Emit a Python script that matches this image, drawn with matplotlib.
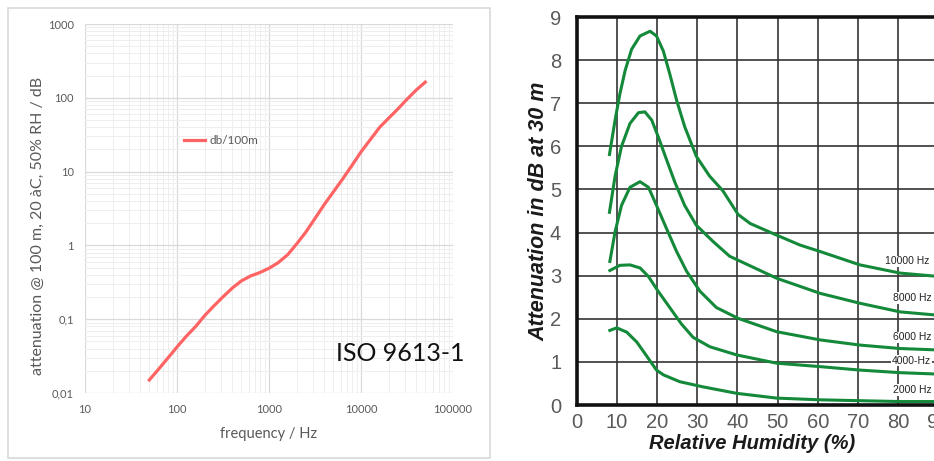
import matplotlib.pyplot as plt
from matplotlib.patches import Rectangle

# --- left chart: ISO 9613-1, attenuation per 100 m (20 C, 50 % RH)
freq = [50, 63, 80, 100, 125, 160, 200, 250, 315, 400, 500, 630, 800, 1000,
        1250, 1600, 2000, 2500, 3150, 4000, 5000, 6300, 8000, 10000, 12500,
        16000, 20000, 25000, 31500, 40000, 50000]
atten = [0.015, 0.021, 0.030, 0.042, 0.058, 0.080, 0.112, 0.150, 0.200, 0.265,
         0.330, 0.385, 0.430, 0.490, 0.580, 0.750, 1.05, 1.5, 2.3, 3.6, 5.3,
         7.9, 12.2, 18.5, 26.7, 40, 53, 70, 95, 128, 163]
x_ticks = [10, 100, 1000, 10000, 100000]
x_labels = ["10", "100", "1000", "10000", "100000"]
y_ticks = [0.01, 0.1, 1, 10, 100, 1000]
y_labels = ["0,01", "0,1", "1", "10", "100", "1000"]

# --- right chart: attenuation at 30 m vs relative humidity
rh_10k = [8.2, 9.6, 10.8, 12.1, 13.7, 15.8, 18.3, 19.9, 21.6, 23.2, 24.9, 26.9,
          29.8, 33.1, 36.4, 40.2, 43.2, 49.8, 55.6, 60.6, 70.5, 80.5, 89]
att_10k = [5.81, 6.61, 7.22, 7.76, 8.25, 8.56, 8.67, 8.56, 8.21, 7.68, 7.07, 6.46,
           5.77, 5.31, 4.97, 4.42, 4.21, 3.94, 3.71, 3.56, 3.25, 3.06, 2.99]
rh_8k = [8.2, 9.6, 11.2, 13.3, 15.4, 17.0, 18.7, 20.3, 22.4, 24.5, 26.9, 29.8,
         34.0, 38.1, 49.8, 60.6, 70.5, 80.5, 89]
att_8k = [4.47, 5.31, 6.00, 6.53, 6.78, 6.80, 6.61, 6.23, 5.69, 5.16, 4.63, 4.17,
          3.79, 3.45, 2.94, 2.59, 2.36, 2.16, 2.09]
rh_6k = [8.3, 9.6, 11.2, 13.3, 15.8, 17.9, 19.9, 22.4, 24.9, 27.4, 30.7, 34.8,
         40.2, 49.8, 60.6, 70.5, 80.5, 89]
att_6k = [3.33, 4.02, 4.63, 5.05, 5.18, 5.05, 4.63, 4.09, 3.56, 3.10, 2.64, 2.26,
          2.01, 1.70, 1.51, 1.39, 1.31, 1.28]
rh_4k = [8.3, 10.8, 13.3, 15.8, 17.9, 20.3, 23.2, 26.1, 29.0, 33.2, 39.9, 49.8,
         60.6, 70.5, 80.5, 89]
att_4k = [3.12, 3.24, 3.25, 3.18, 2.98, 2.64, 2.26, 1.88, 1.57, 1.35, 1.16, 0.97,
          0.89, 0.81, 0.75, 0.72]
rh_2k = [8.3, 10, 12.5, 15.0, 17.5, 19.9, 21.6, 25.7, 31.5, 39.9, 49.8, 60.6,
         70.5, 80.5, 89]
att_2k = [1.73, 1.79, 1.69, 1.46, 1.13, 0.81, 0.70, 0.54, 0.42, 0.27, 0.16, 0.12,
          0.10, 0.08, 0.08]
curve_names = ["10000 Hz", "8000 Hz", "6000 Hz", "4000-Hz", "2000 Hz"]
name_pos = [(76.7, 3.33), (78.7, 2.48), (78.7, 1.57), (78.5, 1.03), (78.7, 0.35)]

W, H = 934, 461
fig = plt.figure(figsize=(W / 100, H / 100), dpi=100)

# light frame around the left (excel) chart
fig.patches.append(Rectangle((8 / W, 1 - 458 / H), 482 / W, 450 / H,
                             transform=fig.transFigure, fill=False,
                             edgecolor="#d9d9d9", linewidth=1.2))

ax1 = fig.add_axes([85 / W, 1 - 393 / H, 368 / W, 369 / H])
ax1.plot(freq, atten, color="#ff6464", linewidth=2.3, label="db/100m")
ax1.set_xscale("log")
ax1.set_yscale("log")
ax1.set_xlim(10, 100000)
ax1.set_ylim(0.01, 1000)
ax1.set_xticks(x_ticks, x_labels)
ax1.set_yticks(y_ticks, y_labels)
ax1.grid(which="major", color="#d9d9d9", linewidth=0.9)
ax1.grid(which="minor", color="#eeeeee", linewidth=0.7)
ax1.set_axisbelow(True)
for s in ax1.spines.values():
    s.set_visible(False)
ax1.tick_params(which="both", length=0, labelsize=8, labelcolor="#595959",
                pad=8)
for t in ax1.get_xticklabels() + ax1.get_yticklabels():
    t.set_family("Lato")
ax1.set_xlabel("frequency / Hz", family="Lato", fontsize=10.5, color="#595959")
ax1.xaxis.set_label_coords(0.5, -0.092)
ax1.set_ylabel("attenuation @ 100 m, 20 àC, 50% RH / dB", family="Lato",
               fontsize=11.5, color="#595959")
ax1.yaxis.set_label_coords(-0.108, 0.453)
ax1.legend(loc="center left", bbox_to_anchor=(0.24, 0.683), frameon=False,
           handlelength=1.8, handletextpad=0.4,
           prop={"family": "Lato", "size": 8.5}, labelcolor="#595959")
ax1.text(0.856, 0.108, "ISO 9613-1", transform=ax1.transAxes, family="Lato",
         fontsize=18, color="#111111", ha="center", va="center")

# right chart, extends past the right edge like the cropped original
ax2 = fig.add_axes([576.5 / W, 1 - 405 / H, 402 / W, 388 / H])
green = "#14893a"
for rh, att in [(rh_10k, att_10k), (rh_8k, att_8k), (rh_6k, att_6k),
                (rh_4k, att_4k), (rh_2k, att_2k)]:
    ax2.plot(rh, att, color=green, linewidth=2.2, solid_joinstyle="round")
for name, (x, y) in zip(curve_names, name_pos):
    ax2.text(x, y, name, fontsize=7.5, family="Liberation Sans", color="#222222",
             va="center", ha="left",
             bbox=dict(facecolor="white", edgecolor="none", pad=0.5))
ax2.set_xlim(0, 100)
ax2.set_ylim(0, 9)
ax2.set_xticks(range(0, 101, 10))
ax2.set_yticks(range(0, 10))
ax2.grid(color="#333333", linewidth=1.2)
ax2.set_axisbelow(True)
for s in ["left", "bottom", "top"]:
    ax2.spines[s].set_linewidth(2.6)
    ax2.spines[s].set_color("#111111")
ax2.tick_params(length=0, labelsize=14.5, labelcolor="#5a5a5a")
ax2.tick_params(axis="y", pad=11)
ax2.tick_params(axis="x", pad=6)
for t in ax2.get_xticklabels() + ax2.get_yticklabels():
    t.set_family("Liberation Sans")
ax2.set_xlabel("Relative Humidity (%)", family="Liberation Sans",
               fontsize=14.5, fontweight="bold", style="italic",
               color="#1a1a1a")
ax2.xaxis.set_label_coords(0.4366, -0.075)
ax2.set_ylabel("Attenuation in dB at 30 m", family="Liberation Sans",
               fontsize=15.5, fontweight="bold", style="italic",
               color="#1a1a1a")
ax2.yaxis.set_label_coords(-0.068, 0.5)

fig.savefig("out.png", dpi=100)
